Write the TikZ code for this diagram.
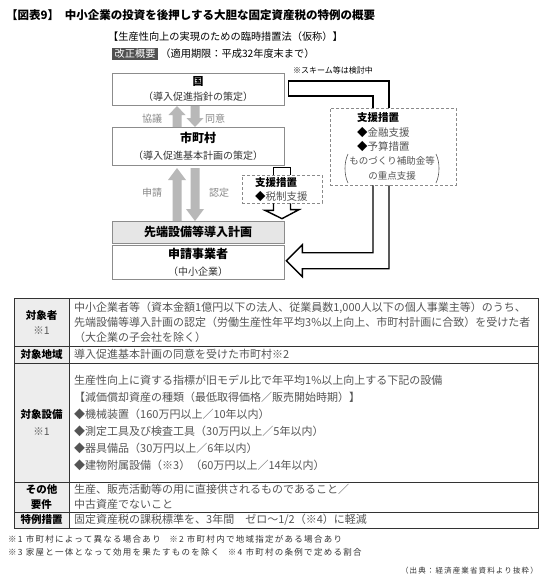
\documentclass[tikz,border=0pt]{standalone}
\usepackage{fontspec}
\setmainfont{Noto Sans CJK JP}
\newfontfamily\notefont{Noto Sans CJK JP}[LetterSpace=15]
\usetikzlibrary{positioning}

\definecolor{boxgray}{HTML}{8C8C8C}
\definecolor{dashgray}{HTML}{8A8A8A}
\definecolor{arrowgray}{HTML}{B8B8B8}
\definecolor{sentgray}{HTML}{E6E6E6}
\definecolor{darkbox}{HTML}{505050}
\definecolor{hfill}{HTML}{EDEDED}
\definecolor{bodygray}{HTML}{555555}
\definecolor{lblgray}{HTML}{8A8A8A}
\definecolor{subgray}{HTML}{333333}

\begin{document}
\begin{tikzpicture}[
    x=1pt, y=-1pt,
    txt/.style={inner sep=0pt},
    flowbox/.style={draw=boxgray, line width=0.7pt, fill=white, minimum width=172pt, inner sep=0pt, align=center},
    dashbox/.style={draw=dashgray, line width=0.7pt, dash pattern=on 3pt off 2pt, inner sep=0pt},
    pipe/.style={line width=1.4pt, black, line join=miter},
    garrow/.style={fill=arrowgray},
    lbl/.style={inner sep=0pt, text=lblgray, font=\fontsize{10}{12}\selectfont},
    tline/.style={line width=0.8pt, draw=black!80},
    hcell/.style={inner sep=0pt, align=center, font=\fontsize{10.5}{15}\selectfont\bfseries},
    bcell/.style={inner sep=0pt, anchor=west, align=left, text=bodygray, font=\fontsize{11}{15}\selectfont}
]
\useasboundingbox (0,0) rectangle (550,581);
\fill[white] (0,0) rectangle (550,581);

% Heading
\node[txt, anchor=west, font=\fontsize{11.5}{13}\selectfont\bfseries] (title) at (6,15)
    {【図表9】\hspace{0.5em}中小企業の投資を後押しする大胆な固定資産税の特例の概要};
\node[txt, anchor=west, font=\fontsize{10.2}{12}\selectfont] (law) at (108,37)
    {【生産性向上の実現のための臨時措置法（仮称）】};
\node[fill=darkbox, text=white, inner xsep=2.5pt, inner ysep=1.5pt, anchor=west,
      font=\fontsize{10.2}{12}\selectfont] (kaisei) at (112,54) {改正概要};
\node[txt, right=2pt of kaisei, font=\fontsize{10.2}{12}\selectfont] (kigen) {（適用期限：平成32年度末まで）};
\node[txt, anchor=west, font=\fontsize{8}{10}\selectfont] (kento) at (293,70) {※スキーム等は検討中};

% Flow boxes
\node[flowbox, minimum height=32pt, font=\fontsize{10}{15}\selectfont] (kuni) at (198,89)
    {{\fontsize{11}{15}\selectfont\bfseries 国}\\{\color{subgray}（導入促進指針の策定）}};
\node[flowbox, minimum height=38pt, font=\fontsize{10}{17}\selectfont] (shichoson) at (198,146)
    {{\fontsize{12}{17}\selectfont\bfseries 市町村}\\{\color{subgray}（導入促進基本計画の策定）}};
\node[flowbox, fill=sentgray, minimum height=22pt, font=\fontsize{12}{14}\selectfont\bfseries] (sentan) at (198,232)
    {先端設備等導入計画};
\node[flowbox, minimum height=34pt, below=2pt of sentan, font=\fontsize{10}{17}\selectfont] (jigyosha)
    {{\fontsize{12}{17}\selectfont\bfseries 申請事業者}\\{\color{subgray}（中小企業）}};

% Support boxes
\node[dashbox, minimum width=126pt, minimum height=77pt] (shienL) at (393,146.5) {};
\node[txt, anchor=west, font=\fontsize{10.5}{12}\selectfont\bfseries] (shienLt) at (357,118) {支援措置};
\node[txt, anchor=west, font=\fontsize{10.5}{12}\selectfont] (kinyu) at (357,133) {◆{\color{bodygray}金融支援}};
\node[txt, anchor=west, font=\fontsize{10.5}{12}\selectfont] (yosan) at (357,147) {◆{\color{bodygray}予算措置}};
\node[txt, text=bodygray, font=\fontsize{9.5}{12}\selectfont] (monozukuri) at (392,161) {ものづくり補助金等};
\node[txt, text=bodygray, font=\fontsize{9.5}{12}\selectfont] (juten) at (392,176) {の重点支援};
\draw[bodygray, line width=0.6pt] (348,154) .. controls (344,162) and (344,175) .. (348,183);
\draw[bodygray, line width=0.6pt] (436,154) .. controls (440,162) and (440,175) .. (436,183);

\node[dashbox, minimum width=80pt, minimum height=28pt] (shienS) at (282,189) {};
\node[txt, anchor=west, font=\fontsize{10.5}{12}\selectfont\bfseries] (shienSt) at (255,183) {支援措置};
\node[txt, anchor=west, font=\fontsize{10.5}{12}\selectfont] (zeisei) at (255,197) {◆{\color{bodygray}税制支援}};

% Gray arrows
\fill[garrow] (172.5,127) -- (172.5,115) -- (168.5,115) -- (177,106) -- (185.5,115) -- (181.5,115) -- (181.5,127) -- cycle;
\fill[garrow] (190.5,106) -- (190.5,118) -- (186.5,118) -- (195,127) -- (203.5,118) -- (199.5,118) -- (199.5,106) -- cycle;
\fill[garrow] (172.5,221) -- (172.5,180) -- (168,180) -- (177,168) -- (186,180) -- (181.5,180) -- (181.5,221) -- cycle;
\fill[garrow] (190.5,168) -- (190.5,209) -- (186,209) -- (195,221) -- (204,209) -- (199.5,209) -- (199.5,168) -- cycle;
\node[lbl] (kyogi) at (152,119) {協議};
\node[lbl] (doi) at (215,119) {同意};
\node[lbl] (shinsei) at (152,193) {申請};
\node[lbl] (nintei) at (219,193) {認定};

% Hollow pipes
\draw[pipe] ([xshift=-20pt]shienL.north) |- ([xshift=4pt,yshift=-7pt]kuni.east)
    -- ([xshift=4pt,yshift=8pt]kuni.east) -| ([xshift=-4pt]shienL.north);
\coordinate (tip) at ([xshift=2pt,yshift=2pt]jigyosha.east);
\draw[pipe] ([xshift=-20pt]shienL.south) |- ([xshift=16pt,yshift=8pt]tip) -- ([xshift=16pt,yshift=16pt]tip)
    -- (tip) -- ([xshift=16pt,yshift=-16pt]tip) -- ([xshift=16pt,yshift=-8pt]tip) -| ([xshift=-4pt]shienL.south);
\draw[pipe] ([xshift=-8.5pt]shienS.north) -- ++(0,-7) -| ([xshift=8.5pt]shienS.north);
\path (shienS.south |- sentan.north) ++(0,-2) coordinate (stip);
\draw[pipe] ([xshift=-8.5pt]shienS.south) -- ++(0,7) -- ++(-8.5,0) -- (stip) -- ++(17,-9) -- ++(-8.5,0)
    -- ([xshift=8.5pt]shienS.south);

% Table
\fill[hfill] (14,298) rectangle (69,528);
\draw[tline] (14,298) rectangle (538,528);
\draw[tline] (69,298) -- (69,528);
\foreach \yy in {346,363,482,512}
    \draw[tline] (14,\yy) -- (538,\yy);

\node[hcell] (h1) at (41.5,322) {対象者\\{\mdseries\color{bodygray}※1}};
\node[hcell] (h2) at (41.5,354.5) {対象地域};
\node[hcell, font=\fontsize{10.5}{17}\selectfont\bfseries] (h3) at (41.5,422.5) {対象設備\\{\mdseries\color{bodygray}※1}};
\node[hcell] (h4) at (41.5,497) {その他\\要件};
\node[hcell] (h5) at (41.5,520) {特例措置};

\node[bcell] (b1) at (74,322) {中小企業者等（資本金額1億円以下の法人、従業員数1,000人以下の個人事業主等）のうち、\\
    先端設備等導入計画の認定（労働生産性年平均3\%以上向上、市町村計画に合致）を受けた者\\
    （大企業の子会社を除く）};
\node[bcell] (b2) at (74,354.5) {導入促進基本計画の同意を受けた市町村※2};
\node[bcell, font=\fontsize{11}{17}\selectfont] (b3) at (74,422.5) {生産性向上に資する指標が旧モデル比で年平均1\%以上向上する下記の設備\\
    【減価償却資産の種類（最低取得価格／販売開始時期）】\\
    ◆機械装置（160万円以上／10年以内）\\
    ◆測定工具及び検査工具（30万円以上／5年以内）\\
    ◆器具備品（30万円以上／6年以内）\\
    ◆建物附属設備（※3）（60万円以上／14年以内）};
\node[bcell] (b4) at (74,497) {生産、販売活動等の用に直接供されるものであること／\\中古資産でないこと};
\node[bcell] (b5) at (74,520) {固定資産税の課税標準を、3年間\hspace{1em}ゼロ～1/2（※4）に軽減};

% Notes
\node[txt, anchor=west, text=subgray, font=\notefont\fontsize{8.5}{10}\selectfont] (note1) at (8,539)
    {※1 市町村によって異なる場合あり\hspace{1em}※2 市町村内で地域指定がある場合あり};
\node[txt, anchor=west, text=subgray, font=\notefont\fontsize{8.5}{10}\selectfont] (note2) at (8,552)
    {※3 家屋と一体となって効用を果たすものを除く\hspace{1em}※4 市町村の条例で定める割合};
\node[txt, anchor=east, text=subgray, font=\notefont\fontsize{7.5}{10}\selectfont] (source) at (538,571)
    {（出典：経済産業省資料より抜粋）};

\end{tikzpicture}
\end{document}
